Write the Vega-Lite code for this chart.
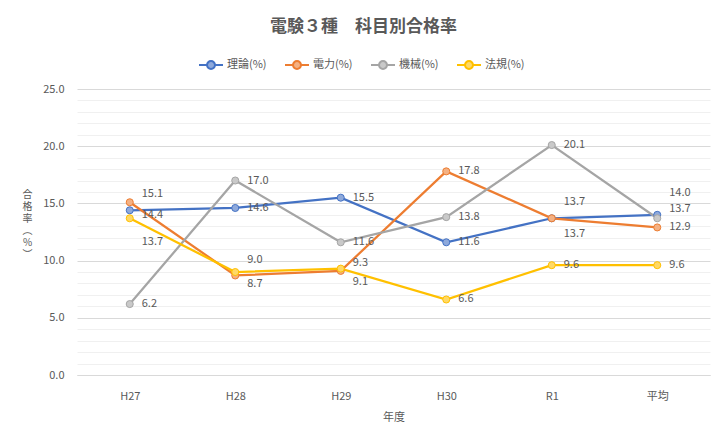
{
  "$schema": "https://vega.github.io/schema/vega-lite/v6.json",
  "width": 633,
  "height": 286,
  "autosize": {"type": "none"},
  "padding": {"left": 77, "top": 89, "right": 16, "bottom": 70},
  "background": "white",
  "title": {
    "text": "電験３種　科目別合格率",
    "fontSize": 17,
    "fontWeight": "bold",
    "color": "#595959",
    "anchor": "middle",
    "dx": -30,
    "offset": 16
  },
  "data": {
    "values": [
      {"year": "H27", "subject": "理論(%)", "rate": 14.4},
      {"year": "H28", "subject": "理論(%)", "rate": 14.6},
      {"year": "H29", "subject": "理論(%)", "rate": 15.5},
      {"year": "H30", "subject": "理論(%)", "rate": 11.6},
      {"year": "R1", "subject": "理論(%)", "rate": 13.7},
      {"year": "平均", "subject": "理論(%)", "rate": 14.0},
      {"year": "H27", "subject": "電力(%)", "rate": 15.1},
      {"year": "H28", "subject": "電力(%)", "rate": 8.7},
      {"year": "H29", "subject": "電力(%)", "rate": 9.1},
      {"year": "H30", "subject": "電力(%)", "rate": 17.8},
      {"year": "R1", "subject": "電力(%)", "rate": 13.7},
      {"year": "平均", "subject": "電力(%)", "rate": 12.9},
      {"year": "H27", "subject": "機械(%)", "rate": 6.2},
      {"year": "H28", "subject": "機械(%)", "rate": 17.0},
      {"year": "H29", "subject": "機械(%)", "rate": 11.6},
      {"year": "H30", "subject": "機械(%)", "rate": 13.8},
      {"year": "R1", "subject": "機械(%)", "rate": 20.1},
      {"year": "平均", "subject": "機械(%)", "rate": 13.7},
      {"year": "H27", "subject": "法規(%)", "rate": 13.7},
      {"year": "H28", "subject": "法規(%)", "rate": 9.0},
      {"year": "H29", "subject": "法規(%)", "rate": 9.3},
      {"year": "H30", "subject": "法規(%)", "rate": 6.6},
      {"year": "R1", "subject": "法規(%)", "rate": 9.6},
      {"year": "平均", "subject": "法規(%)", "rate": 9.6}
    ]
  },
  "encoding": {
    "x": {
      "field": "year",
      "type": "ordinal",
      "sort": ["H27", "H28", "H29", "H30", "R1", "平均"],
      "scale": {"type": "point", "padding": 0.5},
      "axis": {
        "title": "年度",
        "labelAngle": 0,
        "labelPadding": 15,
        "labelColor": "#595959",
        "labelFontSize": 11,
        "ticks": false,
        "domainColor": "#d9d9d9",
        "titleColor": "#595959",
        "titleFontSize": 11,
        "titleFontWeight": "normal",
        "titlePadding": 10
      }
    },
    "y": {
      "field": "rate",
      "type": "quantitative",
      "scale": {"domain": [0, 25], "nice": false},
      "axis": {
        "values": [0, 1, 2, 3, 4, 5, 6, 7, 8, 9, 10, 11, 12, 13, 14, 15, 16, 17, 18, 19, 20, 21, 22, 23, 24, 25],
        "labelExpr": "datum.value % 5 === 0 ? format(datum.value, '.1f') : ''",
        "gridColor": {"condition": {"test": "datum.value % 5 === 0", "value": "#d9d9d9"}, "value": "#f0f0f0"},
        "domain": false,
        "ticks": false,
        "labelPadding": 13,
        "labelColor": "#595959",
        "labelFontSize": 11,
        "title": ["合", "格", "率", "︵", "%", "︶"],
        "titleAngle": 0,
        "titleX": -50,
        "titleY": 100,
        "titleAlign": "center",
        "titleBaseline": "top",
        "titleLineHeight": 12,
        "titleFontSize": 10,
        "titleFontWeight": "normal",
        "titleColor": "#595959"
      }
    }
  },
  "layer": [
    {
      "mark": {"type": "line", "strokeWidth": 2.25},
      "encoding": {
        "color": {
          "field": "subject",
          "type": "nominal",
          "title": null,
          "scale": {
            "domain": ["理論(%)", "電力(%)", "機械(%)", "法規(%)"],
            "range": ["#4472C4", "#ED7D31", "#A5A5A5", "#FFC000"]
          },
          "legend": {
            "orient": "none",
            "legendX": 121,
            "legendY": -37,
            "direction": "horizontal",
            "symbolType": "M-1,0L-0.33,0M0.33,0L1,0M0.33,0A0.33,0.33 0 1,1 -0.33,0A0.33,0.33 0 1,1 0.33,0Z",
            "symbolSize": 576,
            "symbolStrokeWidth": 2,
            "labelFontSize": 11,
            "labelColor": "#595959",
            "labelOffset": 3,
            "columnPadding": 14
          }
        }
      }
    },
    {
      "mark": {"type": "point", "filled": true, "size": 50, "strokeWidth": 1, "opacity": 1},
      "encoding": {
        "fill": {
          "field": "subject",
          "type": "nominal",
          "scale": {
            "domain": ["理論(%)", "電力(%)", "機械(%)", "法規(%)"],
            "range": ["#8EA9DB", "#F4B183", "#C9C9C9", "#FFD966"]
          },
          "legend": null
        },
        "stroke": {
          "field": "subject",
          "type": "nominal",
          "scale": {
            "domain": ["理論(%)", "電力(%)", "機械(%)", "法規(%)"],
            "range": ["#4472C4", "#ED7D31", "#A5A5A5", "#FFC000"]
          },
          "legend": null
        }
      }
    },
    {
      "transform": [{"filter": "!((datum.subject == '電力(%)' && (datum.year == 'H27' || datum.year == 'H28' || datum.year == 'H29' || datum.year == 'R1')) || (datum.subject == '法規(%)' && (datum.year == 'H27' || datum.year == 'H28' || datum.year == 'H29')) || (datum.subject == '理論(%)' && (datum.year == 'H27' || datum.year == 'R1' || datum.year == '平均')) || (datum.subject == '機械(%)' && datum.year == '平均'))"}],
      "mark": {"type": "text", "align": "left", "baseline": "middle", "dx": 12, "fontSize": 11, "color": "#595959"},
      "encoding": {"text": {"field": "rate", "type": "quantitative", "format": ".1f"}}
    },
    {
      "transform": [{"filter": "datum.subject == '電力(%)' && datum.year == 'H27'"}],
      "mark": {"type": "text", "align": "left", "baseline": "middle", "dx": 12, "dy": -8, "fontSize": 11, "color": "#595959"},
      "encoding": {"text": {"field": "rate", "type": "quantitative", "format": ".1f"}}
    },
    {
      "transform": [{"filter": "datum.subject == '理論(%)' && datum.year == 'H27'"}],
      "mark": {"type": "text", "align": "left", "baseline": "middle", "dx": 12, "dy": 5, "fontSize": 11, "color": "#595959"},
      "encoding": {"text": {"field": "rate", "type": "quantitative", "format": ".1f"}}
    },
    {
      "transform": [{"filter": "datum.subject == '法規(%)' && datum.year == 'H27'"}],
      "mark": {"type": "text", "align": "left", "baseline": "middle", "dx": 12, "dy": 24, "fontSize": 11, "color": "#595959"},
      "encoding": {"text": {"field": "rate", "type": "quantitative", "format": ".1f"}}
    },
    {
      "transform": [{"filter": "datum.subject == '法規(%)' && datum.year == 'H28'"}],
      "mark": {"type": "text", "align": "left", "baseline": "middle", "dx": 12, "dy": -12, "fontSize": 11, "color": "#595959"},
      "encoding": {"text": {"field": "rate", "type": "quantitative", "format": ".1f"}}
    },
    {
      "transform": [{"filter": "datum.subject == '電力(%)' && datum.year == 'H28'"}],
      "mark": {"type": "text", "align": "left", "baseline": "middle", "dx": 12, "dy": 9, "fontSize": 11, "color": "#595959"},
      "encoding": {"text": {"field": "rate", "type": "quantitative", "format": ".1f"}}
    },
    {
      "transform": [{"filter": "datum.subject == '法規(%)' && datum.year == 'H29'"}],
      "mark": {"type": "text", "align": "left", "baseline": "middle", "dx": 12, "dy": -6, "fontSize": 11, "color": "#595959"},
      "encoding": {"text": {"field": "rate", "type": "quantitative", "format": ".1f"}}
    },
    {
      "transform": [{"filter": "datum.subject == '電力(%)' && datum.year == 'H29'"}],
      "mark": {"type": "text", "align": "left", "baseline": "middle", "dx": 12, "dy": 11, "fontSize": 11, "color": "#595959"},
      "encoding": {"text": {"field": "rate", "type": "quantitative", "format": ".1f"}}
    },
    {
      "transform": [{"filter": "datum.subject == '理論(%)' && datum.year == 'R1'"}],
      "mark": {"type": "text", "align": "left", "baseline": "middle", "dx": 12, "dy": -16, "fontSize": 11, "color": "#595959"},
      "encoding": {"text": {"field": "rate", "type": "quantitative", "format": ".1f"}}
    },
    {
      "transform": [{"filter": "datum.subject == '電力(%)' && datum.year == 'R1'"}],
      "mark": {"type": "text", "align": "left", "baseline": "middle", "dx": 12, "dy": 16, "fontSize": 11, "color": "#595959"},
      "encoding": {"text": {"field": "rate", "type": "quantitative", "format": ".1f"}}
    },
    {
      "transform": [{"filter": "datum.subject == '理論(%)' && datum.year == '平均'"}],
      "mark": {"type": "text", "align": "left", "baseline": "middle", "dx": 12, "dy": -22, "fontSize": 11, "color": "#595959"},
      "encoding": {"text": {"field": "rate", "type": "quantitative", "format": ".1f"}}
    },
    {
      "transform": [{"filter": "datum.subject == '機械(%)' && datum.year == '平均'"}],
      "mark": {"type": "text", "align": "left", "baseline": "middle", "dx": 12, "dy": -9, "fontSize": 11, "color": "#595959"},
      "encoding": {"text": {"field": "rate", "type": "quantitative", "format": ".1f"}}
    }
  ],
  "config": {
    "font": "Noto Sans CJK JP",
    "view": {"stroke": null}
  }
}
